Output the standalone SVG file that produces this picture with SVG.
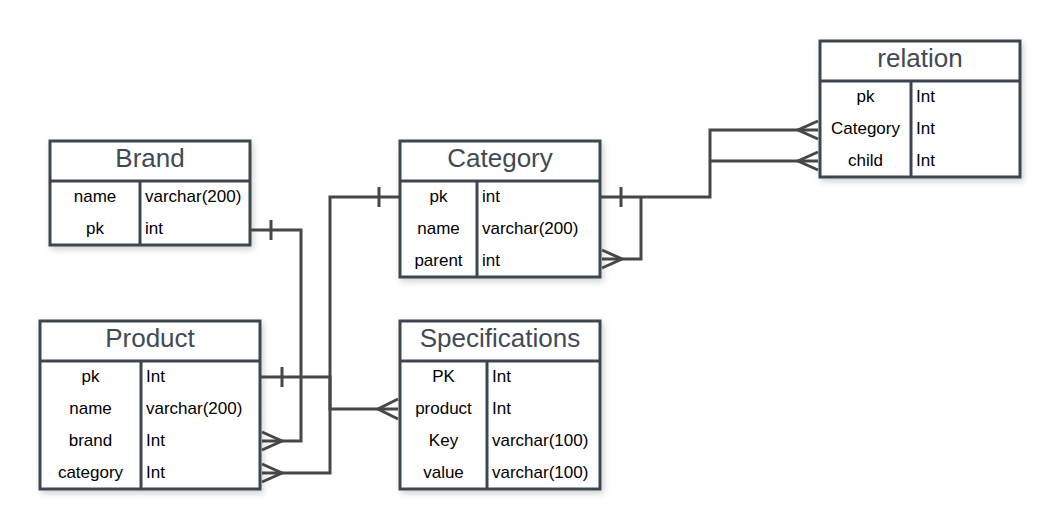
<svg xmlns="http://www.w3.org/2000/svg" width="1060" height="530" viewBox="0 0 1060 530">
<defs>
<filter id="sh" x="-10%" y="-10%" width="125%" height="130%">
<feDropShadow dx="2" dy="3" stdDeviation="3" flood-color="#000" flood-opacity="0.18"/>
</filter>
<style>
.box{fill:#fff;stroke:#3d4650;stroke-width:3;filter:url(#sh)}
.ln{stroke:#3d4650;stroke-width:3;fill:none}
.hd{font-family:"Liberation Sans",Arial,sans-serif;font-size:26px;fill:#3f4a56;text-anchor:middle}
.k{font-family:"Liberation Sans",Arial,sans-serif;font-size:17px;fill:#000;text-anchor:middle}
.t{font-family:"Liberation Sans",Arial,sans-serif;font-size:17px;fill:#000}
.c{stroke:#474747;stroke-width:3;fill:none}
</style>
</defs>
<rect width="1060" height="530" fill="#fff"/>

<g id="brand">
<rect class="box" x="50" y="141" width="200" height="104"/>
<line class="ln" x1="50" y1="181" x2="250" y2="181"/>
<line class="ln" x1="140" y1="181" x2="140" y2="245"/>
<text class="hd" x="150" y="167">Brand</text>
<text class="k" x="95" y="202">name</text><text class="t" x="145" y="202">varchar(200)</text>
<text class="k" x="95" y="234">pk</text><text class="t" x="145" y="234">int</text>
</g>

<g id="category">
<rect class="box" x="400" y="141" width="200" height="136"/>
<line class="ln" x1="400" y1="181" x2="600" y2="181"/>
<line class="ln" x1="477" y1="181" x2="477" y2="277"/>
<text class="hd" x="500" y="167">Category</text>
<text class="k" x="438.5" y="202">pk</text><text class="t" x="482" y="202">int</text>
<text class="k" x="438.5" y="234">name</text><text class="t" x="482" y="234">varchar(200)</text>
<text class="k" x="438.5" y="266">parent</text><text class="t" x="482" y="266">int</text>
</g>

<g id="relation">
<rect class="box" x="820" y="41" width="200" height="136"/>
<line class="ln" x1="820" y1="81" x2="1020" y2="81"/>
<line class="ln" x1="911" y1="81" x2="911" y2="177"/>
<text class="hd" x="920" y="67">relation</text>
<text class="k" x="865.5" y="102">pk</text><text class="t" x="916" y="102">Int</text>
<text class="k" x="865.5" y="134">Category</text><text class="t" x="916" y="134">Int</text>
<text class="k" x="865.5" y="166">child</text><text class="t" x="916" y="166">Int</text>
</g>

<g id="product">
<rect class="box" x="40" y="321" width="220" height="168"/>
<line class="ln" x1="40" y1="361" x2="260" y2="361"/>
<line class="ln" x1="141" y1="361" x2="141" y2="489"/>
<text class="hd" x="150" y="347">Product</text>
<text class="k" x="90.5" y="382">pk</text><text class="t" x="146" y="382">Int</text>
<text class="k" x="90.5" y="414">name</text><text class="t" x="146" y="414">varchar(200)</text>
<text class="k" x="90.5" y="446">brand</text><text class="t" x="146" y="446">Int</text>
<text class="k" x="90.5" y="478">category</text><text class="t" x="146" y="478">Int</text>
</g>

<g id="specifications">
<rect class="box" x="400" y="321" width="200" height="168"/>
<line class="ln" x1="400" y1="361" x2="600" y2="361"/>
<line class="ln" x1="487" y1="361" x2="487" y2="489"/>
<text class="hd" x="500" y="347">Specifications</text>
<text class="k" x="443.5" y="382">PK</text><text class="t" x="492" y="382">Int</text>
<text class="k" x="443.5" y="414">product</text><text class="t" x="492" y="414">Int</text>
<text class="k" x="443.5" y="446">Key</text><text class="t" x="492" y="446">varchar(100)</text>
<text class="k" x="443.5" y="478">value</text><text class="t" x="492" y="478">varchar(100)</text>
</g>

<g id="connectors">
<path class="c" d="M251,230 H301 V441 H262"/>
<path class="c" d="M271,220 V240"/>
<path class="c" d="M262,432 L282,441 L262,450"/>

<path class="c" d="M399,197 H330 V473 H262"/>
<path class="c" d="M379,187 V207"/>
<path class="c" d="M262,464 L282,473 L262,482"/>

<path class="c" d="M261,377 H330 V409 H398"/>
<path class="c" d="M282,367 V387"/>
<path class="c" d="M398,399 L378,409 L398,419"/>

<path class="c" d="M601,197 H710 V130 H818"/>
<path class="c" d="M621,187 V207"/>
<path class="c" d="M818,121 L798,130 L818,139"/>

<path class="c" d="M710,161 H818"/>
<path class="c" d="M818,152 L798,161 L818,170"/>

<path class="c" d="M641,197 V259 H602"/>
<path class="c" d="M602,250 L622,259 L602,268"/>
</g>
</svg>
